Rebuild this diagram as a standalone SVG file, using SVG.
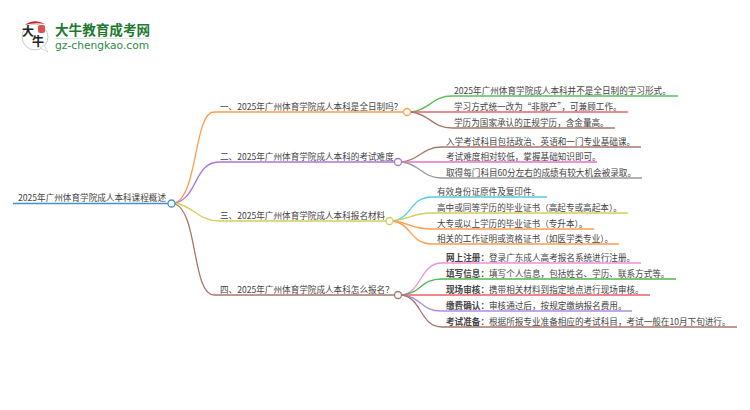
<svg xmlns="http://www.w3.org/2000/svg" width="750" height="410" viewBox="0 0 750 410">
<style>
text{font-family:"Noto Sans CJK SC","Liberation Sans",sans-serif;font-size:8.6px;fill:#444}
.c{fill:none;stroke-width:1.3}
.d{fill:#fff;stroke-width:1.3}
.s{font-weight:700}
</style>
<rect width="750" height="410" fill="#fff"/>
<g id="logo">
<circle cx="35" cy="37" r="13" fill="#fff" stroke="#ccc" stroke-width="1"/>
<path d="M40 48L48 52L44 45Z" fill="#fff" stroke="#ccc" stroke-width=".8"/>
<path d="M25 25Q34 18 45 24Q35 22 25 25Z" fill="#c8261e"/>
<rect x="38" y="25" width="7" height="8" rx="2" fill="#d9534f"/>
<text x="22" y="36" style="font-size:12px;fill:#222;font-weight:700">大</text>
<text x="32" y="46" style="font-size:12px;fill:#222;font-weight:700">牛</text>
<text x="55" y="35" style="font-size:13.6px;fill:#1f7a30;font-weight:700">大牛教育成考网</text>
<rect x="55" y="38" width="95" height="1" fill="#dfe8df"/>
<text x="55" y="49" style="font-size:10.7px;fill:#2b8a3e;font-family:'DejaVu Sans',sans-serif">gz-chengkao.com</text>
</g>
<g id="connectors">
<path class="c" stroke="#4a90c8" d="M13 203.5H168"/>
<path class="c" stroke="#ff9d4d" d="M175 203C198 195 194 112 214 112H403"/>
<path class="c" stroke="#a877d6" d="M175 203C198 198 194 162 219 162H394"/>
<path class="c" stroke="#d2cf5a" d="M175 203C194 206 198 221 219 221H386"/>
<path class="c" stroke="#a6776b" d="M175 204C198 212 192 295 214 295H394"/>
<path class="c" stroke="#5cbd5c" d="M411 112C430 110 432 96 452 96H678"/>
<path class="c" stroke="#e0666e" d="M411 112H628"/>
<path class="c" stroke="#a6776b" d="M411 112C430 114 432 128 452 128H615"/>
<path class="c" stroke="#a6776b" d="M402 162C420 160 422 147 442 147H641"/>
<path class="c" stroke="#e870c8" d="M402 162H597"/>
<path class="c" stroke="#999" d="M402 162C420 164 422 178 442 178H642"/>
<path class="c" stroke="#4fcfe0" d="M393 221C412 218 410 197 432 197H547"/>
<path class="c" stroke="#d2cf5a" d="M393 221C412 219 410 213 432 213H628"/>
<path class="c" stroke="#ff9d4d" d="M393 221C412 223 410 229 432 229H594"/>
<path class="c" stroke="#ff9d4d" d="M393 221C412 224 410 244 432 244H619"/>
<path class="c" stroke="#ee8fd8" d="M402 295C422 292 420 263 442 263H641"/>
<path class="c" stroke="#4fb84f" d="M402 295C422 293 420 279 442 279H676"/>
<path class="c" stroke="#e8606a" d="M402 295H650"/>
<path class="c" stroke="#b08ae0" d="M402 295C422 297 420 311 442 311H632"/>
<path class="c" stroke="#a6776b" d="M402 295C422 298 420 327 442 327H737"/>
</g>
<g id="root"><text x="18" y="201">2025年广州体育学院成人本科课程概述</text><circle class="d" cx="171.5" cy="203.5" r="3.5" stroke="#4a90c8"/></g>
<g id="b1"><text x="220" y="110">一、2025年广州体育学院成人本科是全日制吗？</text><circle class="d" cx="407" cy="112" r="3.5" stroke="#ff9d4d"/></g>
<g id="b2"><text x="220" y="160">二、2025年广州体育学院成人本科的考试难度</text><circle class="d" cx="398" cy="162" r="3.5" stroke="#a877d6"/></g>
<g id="b3"><text x="220" y="219">三、2025年广州体育学院成人本科报名材料</text><circle class="d" cx="389.5" cy="221" r="3.5" stroke="#d2cf5a"/></g>
<g id="b4"><text x="220" y="293">四、2025年广州体育学院成人本科怎么报名？</text><circle class="d" cx="398" cy="295" r="3.5" stroke="#a6776b"/></g>
<g id="l11"><text x="454" y="94">2025年广州体育学院成人本科并不是全日制的学习形式。</text></g>
<g id="l12"><text x="454" y="110">学习方式统一改为“非脱产”，可兼顾工作。</text></g>
<g id="l13"><text x="454" y="126">学历为国家承认的正规学历，含金量高。</text></g>
<g id="l21"><text x="446" y="145">入学考试科目包括政治、英语和一门专业基础课。</text></g>
<g id="l22"><text x="446" y="160">考试难度相对较低，掌握基础知识即可。</text></g>
<g id="l23"><text x="446" y="176">取得每门科目60分左右的成绩有较大机会被录取。</text></g>
<g id="l31"><text x="437" y="195">有效身份证原件及复印件。</text></g>
<g id="l32"><text x="437" y="211">高中或同等学历的毕业证书（高起专或高起本）。</text></g>
<g id="l33"><text x="437" y="227">大专或以上学历的毕业证书（专升本）。</text></g>
<g id="l34"><text x="437" y="242">相关的工作证明或资格证书（如医学类专业）。</text></g>
<g id="l41"><text x="446" y="261"><tspan class="s">网上注册：</tspan>登录广东成人高考报名系统进行注册。</text></g>
<g id="l42"><text x="446" y="277"><tspan class="s">填写信息：</tspan>填写个人信息，包括姓名、学历、联系方式等。</text></g>
<g id="l43"><text x="446" y="293"><tspan class="s">现场审核：</tspan>携带相关材料到指定地点进行现场审核。</text></g>
<g id="l44"><text x="446" y="309"><tspan class="s">缴费确认：</tspan>审核通过后，按规定缴纳报名费用。</text></g>
<g id="l45"><text x="446" y="325"><tspan class="s">考试准备：</tspan>根据所报专业准备相应的考试科目，考试一般在10月下旬进行。</text></g>
</svg>
